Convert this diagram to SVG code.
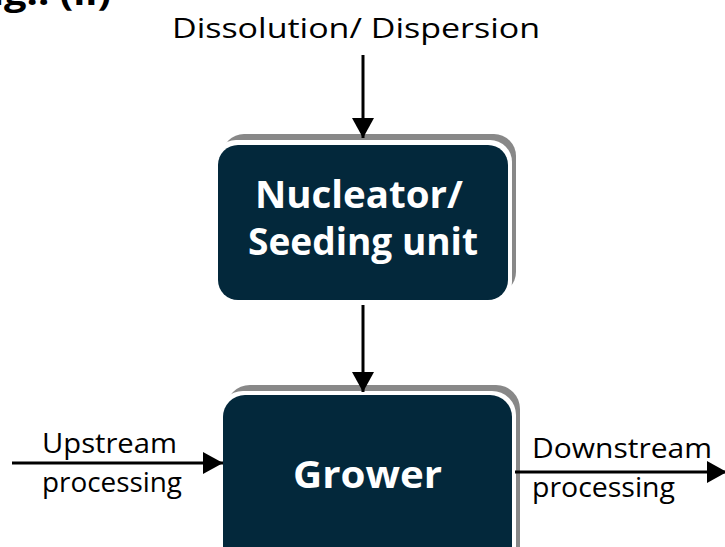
<svg xmlns="http://www.w3.org/2000/svg" width="725" height="547" viewBox="0 0 725 547">
<defs>
<marker id="ah" markerUnits="userSpaceOnUse" markerWidth="20" markerHeight="22" refX="20" refY="11" orient="auto">
<path d="M0,0 L20,11 L0,22 z" fill="#000"/>
</marker>
</defs>
<style>
.lbl{font-family:"Open Sans","Liberation Sans",sans-serif;font-size:28px;fill:#000}
.bx{font-family:"Open Sans","Liberation Sans",sans-serif;font-size:38px;font-weight:bold;fill:#fff}
.shadow{fill:#888}
.halo{fill:#fff}
.box{fill:#03283b}
.conn line{stroke:#000;stroke-width:3;marker-end:url(#ah)}
</style>
<rect width="725" height="547" fill="#fff"/>
<text x="-30" y="5" textLength="141" lengthAdjust="spacingAndGlyphs" style="font-family:'Open Sans','Liberation Sans',sans-serif;font-size:34px;font-weight:bold">Fig.: (ii)</text>
<text class="lbl" x="172" y="38" font-size="29" textLength="368" lengthAdjust="spacingAndGlyphs">Dissolution/ Dispersion</text>
<g id="nucleator">
<rect class="shadow" x="222" y="134" width="294" height="160" rx="22"/>
<rect class="halo" x="214" y="140" width="298" height="164" rx="22"/>
<rect class="box" x="218" y="145" width="290" height="155" rx="20"/>
<text class="bx" x="255" y="208" textLength="208" lengthAdjust="spacingAndGlyphs">Nucleator/</text>
<text class="bx" x="248" y="255" textLength="230" lengthAdjust="spacingAndGlyphs">Seeding unit</text>
</g>
<g id="grower">
<rect class="shadow" x="226" y="385" width="294" height="200" rx="24"/>
<rect class="halo" x="219" y="391" width="297" height="200" rx="24"/>
<rect class="box" x="223" y="395" width="289" height="200" rx="22"/>
<text class="bx" x="293" y="488" font-size="39" textLength="149" lengthAdjust="spacingAndGlyphs">Grower</text>
</g>
<g id="connectors" class="conn">
<line x1="363" y1="55" x2="363" y2="138"/>
<line x1="363" y1="305" x2="363" y2="392"/>
<line x1="12" y1="463" x2="223" y2="463"/>
<line x1="515" y1="472" x2="727" y2="472"/>
</g>
<g id="labels">
<text class="lbl" x="42" y="453" textLength="135" lengthAdjust="spacingAndGlyphs">Upstream</text>
<text class="lbl" x="42" y="492" textLength="140" lengthAdjust="spacingAndGlyphs">processing</text>
<text class="lbl" x="532" y="458" textLength="180" lengthAdjust="spacingAndGlyphs">Downstream</text>
<text class="lbl" x="532" y="497" textLength="143" lengthAdjust="spacingAndGlyphs">processing</text>
</g>
</svg>
